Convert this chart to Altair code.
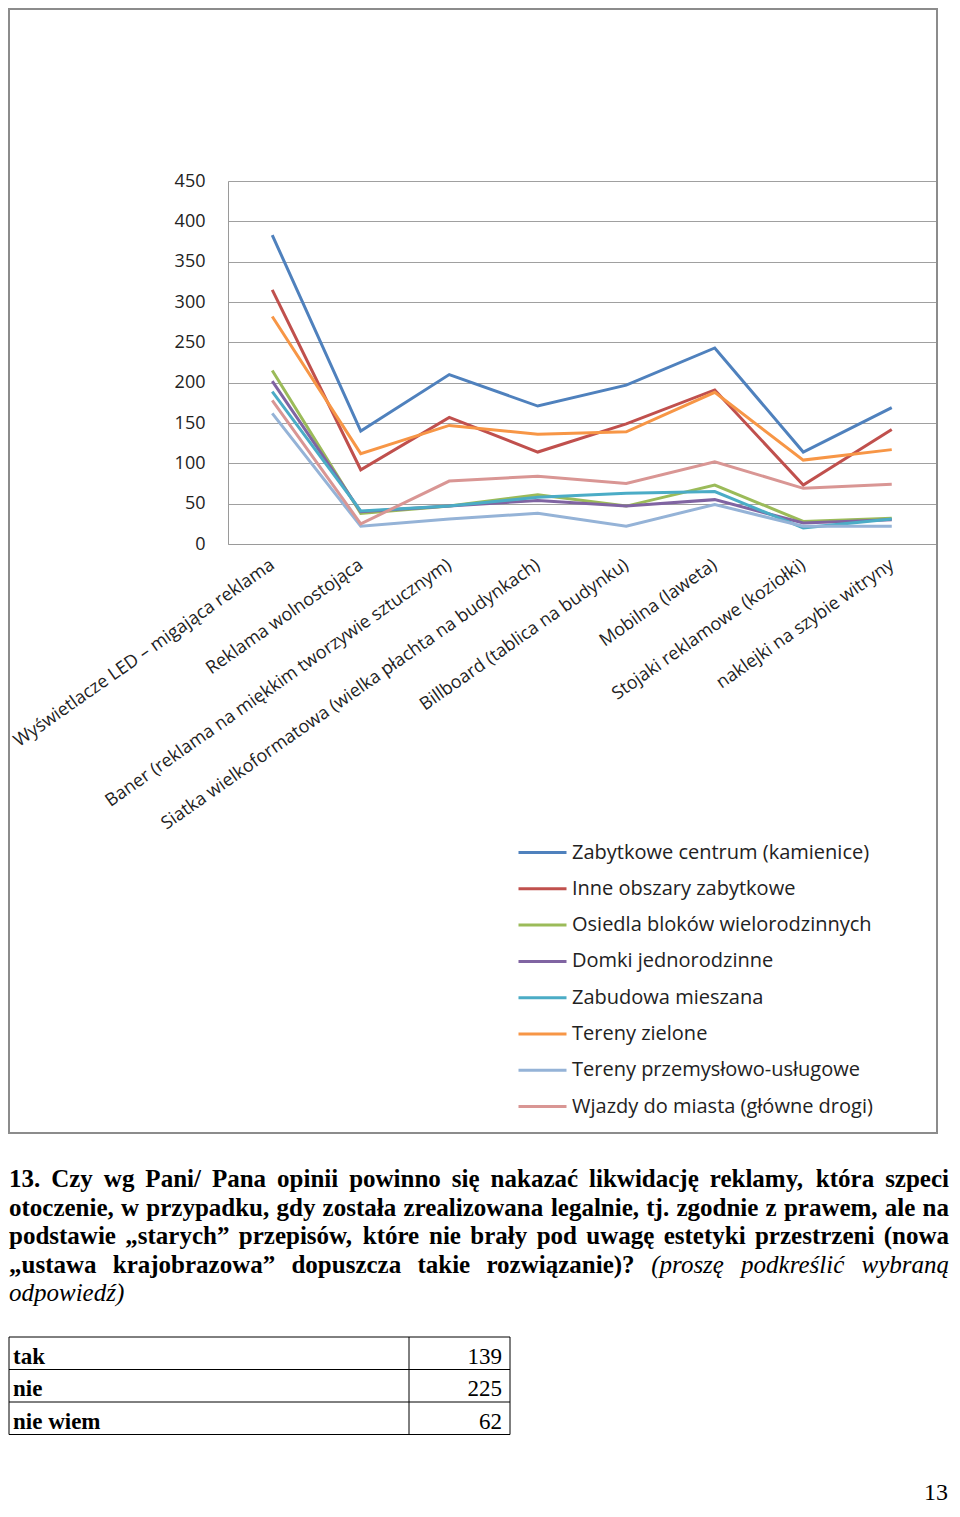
import altair as alt
import pandas as pd

categories = [
    "Wyświetlacze LED – migająca reklama",
    "Reklama wolnostojąca",
    "Baner (reklama na miękkim tworzywie sztucznym)",
    "Siatka wielkoformatowa (wielka płachta na budynkach)",
    "Billboard (tablica na budynku)",
    "Mobilna (laweta)",
    "Stojaki reklamowe (koziołki)",
    "naklejki na szybie witryny",
]
series_names = [
    "Zabytkowe centrum (kamienice)",
    "Inne obszary zabytkowe",
    "Osiedla bloków wielorodzinnych",
    "Domki jednorodzinne",
    "Zabudowa mieszana",
    "Tereny zielone",
    "Tereny przemysłowo-usługowe",
    "Wjazdy do miasta (główne drogi)",
]
zabytkowe_centrum = [383, 140, 210, 171, 197, 243, 114, 169]
inne_zabytkowe = [315, 92, 157, 114, 149, 191, 73, 142]
osiedla_blokow = [215, 38, 47, 61, 47, 73, 28, 32]
domki = [202, 40, 47, 54, 47, 55, 26, 30]
zabudowa_mieszana = [189, 41, 47, 58, 63, 65, 20, 31]
tereny_zielone = [282, 112, 147, 136, 139, 188, 104, 117]
przemyslowe = [162, 22, 31, 38, 22, 49, 22, 22]
wjazdy = [178, 25, 78, 84, 75, 102, 69, 74]
series_values = [zabytkowe_centrum, inne_zabytkowe, osiedla_blokow, domki,
                 zabudowa_mieszana, tereny_zielone, przemyslowe, wjazdy]
colors = ["#4F81BD", "#C0504D", "#9BBB59", "#8064A2",
          "#4BACC6", "#F79646", "#95B3D7", "#D99694"]

# paragraph: each line is a list of (text, style) segments
paragraph = [
    [("13. Czy wg Pani/ Pana opinii powinno się nakazać likwidację reklamy, która szpeci", "bold")],
    [("otoczenie, w przypadku, gdy została zrealizowana legalnie, tj. zgodnie z prawem, ale na", "bold")],
    [("podstawie „starych” przepisów, które nie brały pod uwagę estetyki przestrzeni (nowa", "bold")],
    [("„ustawa krajobrazowa” dopuszcza takie rozwiązanie)?", "bold"),
     ("(proszę podkreślić wybraną", "italic")],
    [("odpowiedź)", "italic")],
]
answers = ["tak", "nie", "nie wiem"]
counts = [139, 225, 62]
page_number = "13"

rows = []
for name, vals in zip(series_names, series_values):
    for c, v in zip(categories, vals):
        rows.append({"kategoria": c, "seria": name, "liczba": v})
df = pd.DataFrame(rows)

# plot-area origin on the page
OX, OY = 228, 181
W, H = 708, 363

lines = alt.Chart(df).mark_line(strokeWidth=3).encode(
    x=alt.X("kategoria:N", sort=categories, title=None,
            axis=alt.Axis(labelAngle=-35, labelAlign="right", labelBaseline="middle",
                          labelPadding=19, labelLimit=600, ticks=False, domain=True,
                          domainColor="#9a9a9a", labelFont="Open Sans",
                          labelFontSize=18, labelColor="#222222")),
    y=alt.Y("liczba:Q", title=None,
            scale=alt.Scale(domain=[0, 450], nice=False),
            axis=alt.Axis(values=list(range(0, 451, 50)), ticks=False, tickSize=0,
                          labelPadding=23, domain=True, domainColor="#9a9a9a",
                          grid=True, gridColor="#a0a0a0", labelFont="Open Sans",
                          labelFontSize=18, labelColor="#222222")),
    color=alt.Color("seria:N", sort=series_names,
                    scale=alt.Scale(domain=series_names, range=colors),
                    legend=alt.Legend(title=None, orient="none",
                                      legendX=289, legendY=646,
                                      symbolType="stroke", symbolStrokeWidth=3,
                                      symbolSize=2304, labelOffset=4,
                                      labelFont="Open Sans", labelFontSize=20,
                                      labelColor="#222222", rowPadding=0.3,
                                      labelLimit=600)),
    order=alt.Order("kategoria_idx:Q"),
).transform_calculate(
    kategoria_idx="indexof(" + str(categories) + ", datum.kategoria)"
)

one = pd.DataFrame({"d": [0]})

# --- approximate Times (Liberation Serif) advance widths, per 1000 em ---
BOLD_W = {" ": 250, ",": 250, ".": 250, "/": 278, "(": 333, ")": 333, "?": 500,
          "„": 500, "”": 500, "1": 500, "3": 500, "C": 722, "P": 611,
          "a": 500, "b": 556, "c": 444, "d": 556, "e": 444, "f": 333, "g": 500,
          "h": 556, "i": 278, "j": 333, "k": 556, "l": 278, "m": 833, "n": 556,
          "o": 500, "p": 556, "r": 444, "s": 389, "t": 333, "u": 556, "v": 500,
          "w": 722, "y": 500, "z": 444, "ą": 500, "ę": 444, "ć": 444, "ł": 278,
          "ó": 500, "ś": 389, "ź": 444, "ż": 444}
ITAL_W = {" ": 250, "(": 333, ")": 333, "a": 500, "b": 500, "c": 444, "d": 500,
          "e": 444, "i": 278, "k": 444, "l": 278, "n": 500, "o": 500, "p": 500,
          "r": 389, "s": 389, "w": 667, "y": 444, "z": 389, "ą": 500, "ę": 444,
          "ć": 444, "ś": 389, "ź": 389, "ż": 389}

PFS = 25
LEFT, RIGHT = 9, 949
baselines = [1187, 1216, 1244, 1273, 1301]
justify = [True, True, True, True, False]


def word_width(w, style):
    table = BOLD_W if style == "bold" else ITAL_W
    return sum(table.get(ch, 500) for ch in w) * PFS / 1000.0


word_rows = []
for line, base, just in zip(paragraph, baselines, justify):
    words = [(w, st) for seg, st in line for w in seg.split(" ")]
    widths = [word_width(w, st) for w, st in words]
    if just and len(words) > 1:
        gap = (RIGHT - LEFT - sum(widths)) / (len(words) - 1)
    else:
        gap = PFS * 0.25
    x = LEFT
    for (w, st), wd in zip(words, widths):
        word_rows.append({"w": w, "style": st, "x": x - OX, "y": base - OY})
        x += wd + gap
words_df = pd.DataFrame(word_rows)

layers = [lines]

# chart frame
layers.append(alt.Chart(one).mark_rect(filled=False, stroke="#8c8c8c", strokeWidth=2).encode(
    x=alt.value(9 - OX), x2=alt.value(937 - OX), y=alt.value(9 - OY), y2=alt.value(1133 - OY)))

for st, kw in (("bold", {"fontWeight": "bold"}), ("italic", {"fontStyle": "italic"})):
    layers.append(alt.Chart(words_df[words_df["style"] == st]).mark_text(
        font="Liberation Serif", fontSize=PFS, align="left", baseline="alphabetic",
        color="#000000", **kw).encode(
        x=alt.X("x:Q", scale=None), y=alt.Y("y:Q", scale=None), text="w:N"))

# table
tbl_top, row_h = 1337, 32.5
layers.append(alt.Chart(one).mark_rect(filled=False, stroke="#000000", strokeWidth=1).encode(
    x=alt.value(9 - OX), x2=alt.value(510 - OX), y=alt.value(tbl_top - OY),
    y2=alt.value(tbl_top + 3 * row_h - OY)))
layers.append(alt.Chart(one).mark_rule(color="#000000", strokeWidth=1).encode(
    x=alt.value(409 - OX), y=alt.value(tbl_top - OY), y2=alt.value(tbl_top + 3 * row_h - OY)))
for i in (1, 2):
    layers.append(alt.Chart(one).mark_rule(color="#000000", strokeWidth=1).encode(
        x=alt.value(9 - OX), x2=alt.value(510 - OX), y=alt.value(tbl_top + i * row_h - OY)))


def text_layer(s, px, py, **kw):
    return alt.Chart(pd.DataFrame({"t": [s]})).mark_text(**kw).encode(
        x=alt.value(px - OX), y=alt.value(py - OY), text="t:N")


tbl_font = dict(font="Liberation Serif", fontSize=23, baseline="alphabetic", color="#000000")
for i, (a, c) in enumerate(zip(answers, counts)):
    b = tbl_top + (i + 1) * row_h - 6
    layers.append(text_layer(a, 13, b, align="left", fontWeight="bold", **tbl_font))
    layers.append(text_layer(str(c), 502, b, align="right", **tbl_font))

layers.append(text_layer(page_number, 948, 1500, align="right", font="Liberation Serif",
                         fontSize=24, baseline="alphabetic", color="#000000"))

chart = alt.layer(*layers).properties(
    width=W, height=H,
    autosize=alt.AutoSizeParams(type="none"),
    padding={"left": OX - 8, "top": OY - 8, "right": 16, "bottom": 1497 - (OY - 8) - H},
).configure_view(stroke=None).configure(background="white")

chart.save("out.html", embed_options={"renderer": "svg", "actions": False})
